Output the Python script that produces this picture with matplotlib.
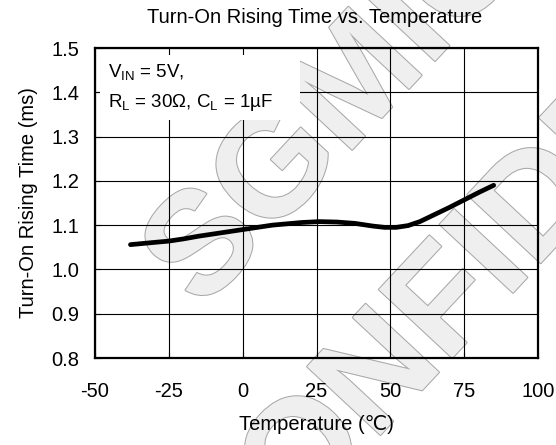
import matplotlib
matplotlib.use("Agg")
import matplotlib.pyplot as plt
import matplotlib.patheffects as pe
from matplotlib.patches import Rectangle

# Data
temperature = [-38, -30, -25, -20, -15, -10, -5, 0, 5, 10, 15, 20, 26, 32, 38, 44, 48,
               52, 56, 60, 65, 70, 75, 80, 85]
rise_time = [1.056, 1.061, 1.064, 1.069, 1.075, 1.080, 1.085, 1.090, 1.095, 1.100,
             1.103, 1.106, 1.108, 1.107, 1.104, 1.098, 1.095, 1.095, 1.099, 1.108,
             1.124, 1.140, 1.157, 1.174, 1.190]

x_ticks = [-50, -25, 0, 25, 50, 75, 100]
y_ticks = [0.8, 0.9, 1.0, 1.1, 1.2, 1.3, 1.4, 1.5]

plt.rcParams["font.family"] = ["Liberation Sans", "DejaVu Sans"]
plt.rcParams["mathtext.fontset"] = "custom"
plt.rcParams["mathtext.rm"] = "Liberation Sans"

fig = plt.figure(figsize=(5.56, 4.45), dpi=100, facecolor="white")
ax = fig.add_axes([0.1709, 0.1955, 0.7967, 0.6966])

# watermark (outlined grey letters)
def watermark(x, y, s):
    ax.text(x, y, s, transform=fig.transFigure, rotation=47, rotation_mode="anchor",
            ha="left", va="baseline", fontsize=105, fontweight="bold",
            color="#efefef", zorder=0.8, clip_on=False,
            path_effects=[pe.Stroke(linewidth=1.5, foreground="#a8a8a8"), pe.Normal()])

watermark(0.363, 0.301, "SGMICRO")
watermark(0.404, -0.353, "CONFIDENTIAL")

ax.plot(temperature, rise_time, color="black", lw=3.4, solid_capstyle="round",
        solid_joinstyle="round", zorder=3)

ax.set_xlim(-50, 100)
ax.set_ylim(0.8, 1.5)
ax.set_xticks(x_ticks)
ax.set_yticks(y_ticks)
ax.set_xticklabels([str(v) for v in x_ticks])
ax.set_yticklabels([f"{v:.1f}" for v in y_ticks])
ax.grid(True, color="black", lw=0.8)
ax.tick_params(direction="in", length=4, width=0.8, labelsize=14.5, color="black")
ax.tick_params(axis="x", pad=17)
ax.tick_params(axis="y", pad=11)
for sp in ax.spines.values():
    sp.set_linewidth(1.6)
    sp.set_zorder(5)

# white box behind the conditions
ax.add_patch(Rectangle((0.011, 0.768), 0.452, 0.209, transform=ax.transAxes,
                       facecolor="white", edgecolor="none", zorder=2.2))
ax.text(0.03, 0.903, r"V$_{\mathregular{IN}}$ = 5V,", transform=ax.transAxes,
        fontsize=13.5, va="baseline", zorder=4)
ax.text(0.03, 0.81, r"R$_{\mathregular{L}}$ = 30Ω, C$_{\mathregular{L}}$ = 1µF",
        transform=ax.transAxes, fontsize=13.5, va="baseline", zorder=4)

ax.set_xlabel("Temperature (℃)", fontsize=14.5, labelpad=10)
ax.set_ylabel("Turn-On Rising Time (ms)", fontsize=14.5, labelpad=10)
fig.text(0.565, 0.96, "Turn-On Rising Time vs. Temperature", ha="center", va="center",
         fontsize=14.5)

fig.savefig("out.png", dpi=100, facecolor="white")
